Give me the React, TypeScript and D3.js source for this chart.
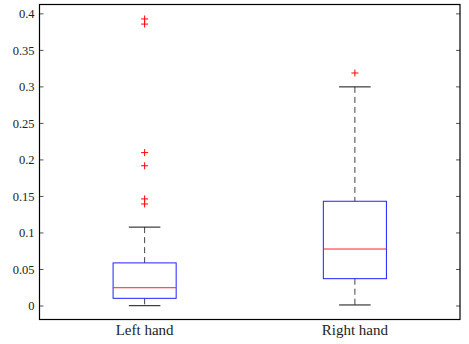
import React from "react";
import * as d3 from "d3";

const categories = ["Left hand", "Right hand"];
const q1 = [0.0105, 0.0374];
const medians = [0.025, 0.078];
const q3 = [0.059, 0.1434];
const whiskerLow = [0.0004, 0.0014];
const whiskerHigh = [0.108, 0.3];
const outliers = [
  [0.393, 0.386, 0.21, 0.192, 0.1466, 0.1397],
  [0.319],
];
const yTicks = [0, 0.05, 0.1, 0.15, 0.2, 0.25, 0.3, 0.35, 0.4];

const W = 469, H = 344;
const L = 39.5, R = 460, T = 4.5, B = 319.5;

export default function App() {
  const x = d3.scaleLinear().domain([0.5, 2.5]).range([L, R]);
  const y = d3.scaleLinear().domain([-0.0185, 0.4128]).range([B, T]);
  const textStyle: React.CSSProperties = { fontFamily: "'Liberation Serif', 'Times New Roman', serif" };
  return (
    <svg width={W} height={H} style={{ position: "absolute", left: 0, top: 0, background: "#fff" }}>
      <rect x={0} y={0} width={W} height={H} fill="#fff" />
      {categories.map((c, i) => {
        const cx = x(i + 1);
        const bw = x(1.3) - x(1);
        const cw = x(1.075) - x(1);
        return (
          <g key={c}>
            <line x1={cx} x2={cx} y1={y(whiskerHigh[i])} y2={y(q3[i])} stroke="#444" strokeDasharray="6,4" />
            <line x1={cx} x2={cx} y1={y(q1[i])} y2={y(whiskerLow[i])} stroke="#444" strokeDasharray="6,4" />
            <line x1={cx - cw} x2={cx + cw} y1={y(whiskerHigh[i])} y2={y(whiskerHigh[i])} stroke="#111" />
            <line x1={cx - cw} x2={cx + cw} y1={y(whiskerLow[i])} y2={y(whiskerLow[i])} stroke="#111" />
            <rect x={cx - bw / 2} y={y(q3[i])} width={bw} height={y(q1[i]) - y(q3[i])} fill="none" stroke="#2020ff" />
            <line x1={cx - bw / 2} x2={cx + bw / 2} y1={y(medians[i])} y2={y(medians[i])} stroke="#ff2020" />
            {outliers[i].map((v, j) => (
              <g key={j} stroke="#ff0000">
                <line x1={cx - 3.5} x2={cx + 3.5} y1={y(v)} y2={y(v)} />
                <line x1={cx} x2={cx} y1={y(v) - 3.5} y2={y(v) + 3.5} />
              </g>
            ))}
            <text x={cx} y={B + 15.5} textAnchor="middle" style={{ ...textStyle, fontSize: "15px" }} fill="#222">{c}</text>
          </g>
        );
      })}
      {yTicks.map((t) => (
        <g key={t}>
          <line x1={L} x2={L + 4} y1={y(t)} y2={y(t)} stroke="#555" />
          <line x1={R - 4} x2={R} y1={y(t)} y2={y(t)} stroke="#555" />
          <text x={L - 5} y={y(t) + 4.5} textAnchor="end" style={{ ...textStyle, fontSize: "12.5px" }} fill="#222">{String(t)}</text>
        </g>
      ))}
      <rect x={L} y={T} width={R - L} height={B - T} fill="none" stroke="#000" strokeWidth={1.2} />
    </svg>
  );
}
